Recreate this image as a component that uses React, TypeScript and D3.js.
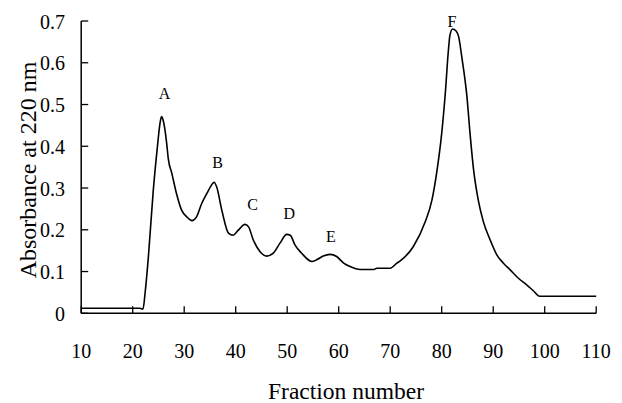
import React from 'react';
import * as d3 from 'd3';

// traced elution profile: fraction number vs absorbance at 220 nm
const fractions = [
  10, 21.4, 22.0, 22.4, 23.0, 24.0, 24.8, 25.3, 25.6, 25.9, 26.6, 26.9, 27.6, 28.5, 29.5,
  30.5, 31.5, 32.4, 33.4, 34.4, 35.3, 35.8, 36.3, 37.3, 38.6, 39.5, 40.5, 41.8, 42.5,
  43.4, 44.7, 46.0, 47.3, 48.6, 49.9, 50.6, 51.5, 52.8, 54.8, 55.7, 57.0, 58.3, 59.6,
  60.9, 62.2, 64.2, 66.8, 67.4, 70.0, 71.3, 72.0, 74.5, 76.8, 78.1, 79.1, 80.0, 80.7,
  81.3, 81.6, 82.1, 82.8, 83.3, 83.9, 84.9, 85.5, 86.2, 87.1, 88.1, 89.4, 90.7, 92.0,
  93.3, 94.9, 96.5, 97.8, 99.0, 110,
];
const absorbance = [
  0.012, 0.012, 0.010, 0.048, 0.128, 0.295, 0.399, 0.455, 0.471, 0.463, 0.407, 0.371, 0.335, 0.287, 0.247,
  0.231, 0.222, 0.231, 0.263, 0.287, 0.307, 0.314, 0.303, 0.247, 0.192, 0.187, 0.199, 0.213, 0.207,
  0.176, 0.148, 0.137, 0.144, 0.168, 0.189, 0.187, 0.164, 0.144, 0.124, 0.128, 0.137, 0.141, 0.136,
  0.121, 0.112, 0.105, 0.105, 0.108, 0.108, 0.120, 0.126, 0.160, 0.219, 0.271, 0.343, 0.431, 0.527,
  0.630, 0.666, 0.681, 0.676, 0.662, 0.614, 0.519, 0.431, 0.343, 0.271, 0.219, 0.176, 0.140, 0.120,
  0.104, 0.084, 0.068, 0.054, 0.041, 0.041,
];

const peakNames = ['A', 'B', 'C', 'D', 'E', 'F'];
const peakFractions = [26.2, 36.5, 43.3, 50.4, 58.5, 82.0];
const peakLabelHeights = [0.513, 0.348, 0.247, 0.225, 0.170, 0.686];

const xTicks = [10, 20, 30, 40, 50, 60, 70, 80, 90, 100, 110];
const yTicks = [0, 0.1, 0.2, 0.3, 0.4, 0.5, 0.6, 0.7];

const W = 622;
const H = 403;
const FONT = "'Liberation Serif', 'Times New Roman', serif";

export default function App() {
  const x = d3.scaleLinear().domain([10, 110]).range([81.2, 596.2]);
  const y = d3.scaleLinear().domain([0, 0.7]).range([313.3, 21]);

  const points = fractions.map((f, i) => [f, absorbance[i]] as [number, number]);
  const line = d3
    .line<[number, number]>()
    .x((d) => x(d[0]))
    .y((d) => y(d[1]))
    .curve(d3.curveMonotoneX);

  const tickLen = 7;

  return (
    <svg
      width={W}
      height={H}
      style={{ position: 'absolute', left: 0, top: 0, background: '#fff' }}
      fontFamily={FONT}
    >
      {/* axes */}
      <line x1={x(10)} x2={x(110)} y1={y(0)} y2={y(0)} stroke="#000" strokeWidth={1.5} />
      <line x1={x(10)} x2={x(10)} y1={y(0)} y2={y(0.7)} stroke="#000" strokeWidth={1.5} />

      {xTicks.map((t) => (
        <g key={'x' + t}>
          <line x1={x(t)} x2={x(t)} y1={y(0)} y2={y(0) - tickLen} stroke="#000" strokeWidth={1.3} />
          <text x={x(t)} y={358} textAnchor="middle" fontSize={20}>
            {t}
          </text>
        </g>
      ))}

      {yTicks.map((t) => (
        <g key={'y' + t}>
          <line x1={x(10)} x2={x(10) + tickLen} y1={y(t)} y2={y(t)} stroke="#000" strokeWidth={1.3} />
          <text x={65} y={y(t) + 7.5} textAnchor="end" fontSize={20}>
            {d3.format('')(t)}
          </text>
        </g>
      ))}

      <text x={346} y={399} textAnchor="middle" fontSize={23.5}>
        Fraction number
      </text>
      <text
        transform={`translate(36,170) rotate(-90)`}
        textAnchor="middle"
        fontSize={24}
      >
        Absorbance at 220 nm
      </text>

      <path d={line(points) || ''} fill="none" stroke="#000" strokeWidth={1.6} strokeLinejoin="round" />

      {peakNames.map((n, i) => (
        <text
          key={n}
          x={x(peakFractions[i])}
          y={y(peakLabelHeights[i])}
          textAnchor="middle"
          fontSize={16}
        >
          {n}
        </text>
      ))}
    </svg>
  );
}
